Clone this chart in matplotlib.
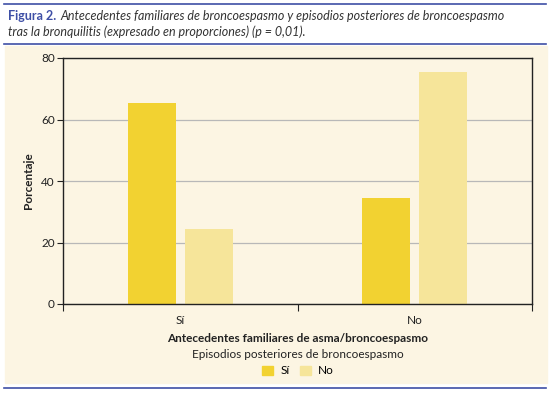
import numpy as np
import matplotlib.pyplot as plt
from matplotlib.lines import Line2D
from matplotlib.patches import Rectangle, Patch

plt.rcParams['font.family'] = ['Lato', 'DejaVu Sans']

# data
grupos = ["Sí", "No"]                 # antecedentes familiares
serie_si = [65.5, 34.5]               # episodios posteriores: Sí
serie_no = [24.5, 75.5]               # episodios posteriores: No
leyenda = ["Sí", "No"]

c_si = "#F2D231"
c_no = "#F6E59A"
fondo = "#FCF5E3"
azul = "#3E4FA6"

fig = plt.figure(figsize=(5.54, 3.95), dpi=100)
W, H = 554, 395

# cream panel + blue rules
fig.patches.append(Rectangle((5 / W, 1 - 383 / H), 542 / W, 337 / H,
                             transform=fig.transFigure, color=fondo, zorder=-5))
for y in (4, 44, 388):
    fig.lines.append(Line2D([4 / W, 546 / W], [1 - y / H, 1 - y / H],
                            transform=fig.transFigure, color=azul, lw=1.2))

fig.text(8 / W, 1 - 16 / H, "Figura 2.", color=azul, fontsize=9,
         fontweight="bold", va="center")
fig.text(60 / W, 1 - 16 / H,
         "Antecedentes familiares de broncoespasmo y episodios posteriores de broncoespasmo",
         color="#333333", fontsize=9, style="italic", va="center")
fig.text(8 / W, 1 - 32 / H,
         "tras la bronquilitis (expresado en proporciones) (p = 0,01).",
         color="#333333", fontsize=9, style="italic", va="center")

ax = fig.add_axes([63 / W, 1 - 304 / H, 469 / W, 246 / H])
ax.set_facecolor(fondo)

x = np.arange(len(grupos)) + 0.5
w = 0.205
gap = 0.038
ax.bar(x - w / 2 - gap / 2, serie_si, width=w, color=c_si, zorder=2, label=leyenda[0])
ax.bar(x + w / 2 + gap / 2, serie_no, width=w, color=c_no, zorder=2, label=leyenda[1])

ax.set_xlim(0, 2)
ax.set_ylim(0, 80)
ax.set_yticks([0, 20, 40, 60, 80])
ax.set_xticks([0, 1, 2])
ax.set_xticklabels([])
ax.set_xticks(x, minor=True)
ax.set_xticklabels(grupos, minor=True)
ax.tick_params(axis="x", which="minor", length=0, pad=8)
ax.tick_params(axis="x", which="major", length=5, color="#222222")
ax.tick_params(axis="y", length=4, color="#222222", pad=2)
ax.tick_params(labelsize=8.5, labelcolor="#222222")
ax.tick_params(axis="x", which="minor", labelsize=8.5, labelcolor="#222222")
ax.grid(axis="y", color="#B8B8B8", lw=0.9, zorder=1)
for s in ax.spines.values():
    s.set_color("#222222")
    s.set_linewidth(1.0)

ax.set_ylabel("Porcentaje", fontsize=8.5, fontweight="bold", color="#222222", labelpad=5)
ax.set_xlabel("Antecedentes familiares de asma/broncoespasmo", fontsize=8.5,
              fontweight="bold", color="#222222", labelpad=5)

fig.text(298 / W, 1 - 355 / H, "Episodios posteriores de broncoespasmo",
         fontsize=8.5, color="#222222", ha="center", va="center")
handles = [Patch(color=c_si), Patch(color=c_no)]
fig.legend(handles, leyenda, loc="center", bbox_to_anchor=(298 / W, 1 - 371 / H),
           ncol=2, frameon=False, fontsize=8.5,
           handlelength=0.9, handleheight=0.9, handletextpad=0.6,
           columnspacing=0.9, borderpad=0, labelspacing=0)

fig.savefig("out.png", dpi=100)
